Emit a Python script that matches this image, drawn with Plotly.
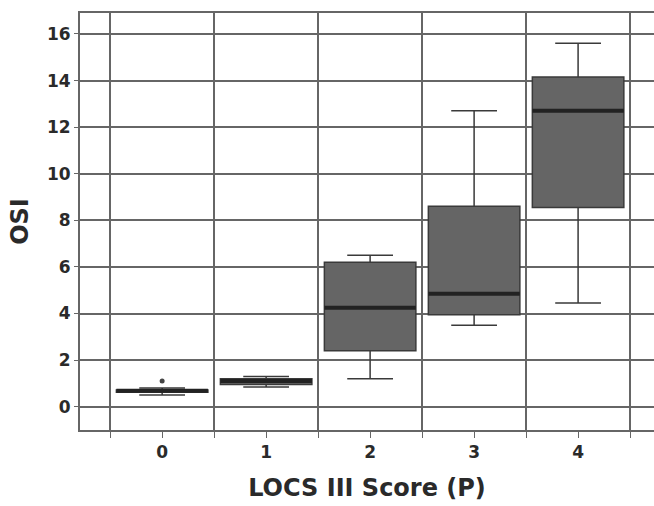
import plotly.graph_objects as go

categories = [0, 1, 2, 3, 4]
tick_labels = ["0", "1", "2", "3", "4"]
q1 = [0.62, 0.95, 2.4, 3.95, 8.55]
median = [0.68, 1.1, 4.25, 4.85, 12.7]
q3 = [0.72, 1.2, 6.2, 8.6, 14.15]
lower_fence = [0.5, 0.85, 1.2, 3.5, 4.45]
upper_fence = [0.8, 1.3, 6.5, 12.7, 15.6]
outlier_x = [0]
outlier_y = [1.1]
y_ticks = [0, 2, 4, 6, 8, 10, 12, 14, 16]

fig = go.Figure()
fig.add_trace(go.Box(
    x=categories, q1=q1, median=median, q3=q3,
    lowerfence=lower_fence, upperfence=upper_fence,
    width=0.88, whiskerwidth=0.5,
    fillcolor="#656565",
    line=dict(color="#3a3a3a", width=1.5),
    boxpoints=False, showlegend=False, hoverinfo="skip",
))
# thick median bars (box collapsed onto the median value)
fig.add_trace(go.Box(
    x=categories, q1=median, median=median, q3=median,
    lowerfence=median, upperfence=median,
    width=0.88, whiskerwidth=0,
    fillcolor="#222222",
    line=dict(color="#222222", width=4),
    boxpoints=False, showlegend=False, hoverinfo="skip",
))
fig.add_trace(go.Scatter(
    x=outlier_x, y=outlier_y, mode="markers",
    marker=dict(symbol="circle", size=5, color="#444444"),
    showlegend=False, hoverinfo="skip",
))

font = "DejaVu Sans, Liberation Sans, sans-serif"
fig.update_layout(
    width=654, height=506,
    margin=dict(l=80, r=0, t=13, b=76),
    paper_bgcolor="white", plot_bgcolor="white",
    boxmode="overlay",
    font=dict(family=font, color="#2a2a2a"),
    xaxis=dict(
        range=[-0.79, 4.73], automargin=False,
        tickvals=categories, ticktext=["<b>%s</b>" % t for t in tick_labels],
        tickfont=dict(size=17, color="#2a2a2a"),
        ticks="outside", ticklen=6, tickcolor="#666666",
        showgrid=False, zeroline=False,
        showline=True, linecolor="#666666", linewidth=2, mirror=True,
        minor=dict(tick0=0.5, dtick=1, showgrid=True, gridcolor="#666666",
                   gridwidth=1.5, ticks="outside", ticklen=6, tickcolor="#666666"),
        title=dict(text="<b>LOCS III Score (P)</b>", font=dict(size=24, color="#2a2a2a"), standoff=18),
    ),
    yaxis=dict(
        range=[-1.0, 16.9], automargin=False,
        tickvals=y_ticks,
        ticktext=["<b>%d</b>" % v for v in y_ticks],
        tickfont=dict(size=17, color="#2a2a2a"),
        ticks="outside", ticklen=4, tickcolor="#666666",
        showgrid=True, gridcolor="#666666", gridwidth=1.5,
        zeroline=False,
        showline=True, linecolor="#666666", linewidth=2,
        title=dict(text="<b>OSI</b>", font=dict(size=24, color="#2a2a2a"), standoff=12),
    ),
)

fig.write_html("out.html", config={"displayModeBar": False},
               post_script="document.body.style.margin='0';")
